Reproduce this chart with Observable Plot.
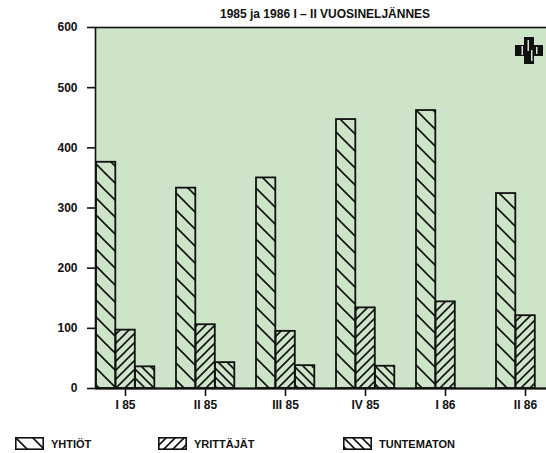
<!DOCTYPE html>
<html>
<head>
<meta charset="utf-8">
<script src="https://cdn.jsdelivr.net/npm/d3@7"></script>
<script src="https://cdn.jsdelivr.net/npm/@observablehq/plot@0.6"></script>
<style>
  html, body { margin: 0; padding: 0; background: #fff; width: 546px; height: 453px; overflow: hidden; }
  body { font-family: "Liberation Sans", Arial, sans-serif; position: relative; }
  #title { position: absolute; top: 4px; left: 220px; line-height: 20px; font-weight: bold; font-size: 12px; color: #111; white-space: nowrap; }
  #legend { position: relative; height: 29px; }
  .leg { position: absolute; top: 13px; display: flex; align-items: center; font-weight: bold; font-size: 11px; color: #111; }
  .leg svg { margin-right: 7px; overflow: visible; }
</style>
</head>
<body>
<div id="chart"></div>
<div id="title">1985 ja 1986 I – II VUOSINELJÄNNES</div>
<div id="legend"></div>
<script>
const quarters = ["I 85", "II 85", "III 85", "IV 85", "I 86", "II 86"];
const yhtiot = [376, 333, 350, 447, 462, 324];
const yrittajat = [97, 106, 95, 134, 144, 121];
const tuntematon = [36, 43, 38, 37, null, null];
const seriesNames = ["YHTIÖT", "YRITTÄJÄT", "TUNTEMATON"];
const yTicks = [0, 100, 200, 300, 400, 500, 600];

const green = "#cde4c9";
const patterns = ["p-yhtiot", "p-yrittajat", "p-tuntematon"];
const seriesValues = [yhtiot, yrittajat, tuntematon];
const insets = [[11, 49.7], [30.5, 30.2], [50, 10.7]];

const marks = [
  Plot.frame({fill: green, stroke: "#111", strokeWidth: 1.6}),
  Plot.axisY({ticks: yTicks, tickSize: 8, tickPadding: 10, fontSize: 12, fontWeight: "bold", stroke: "#111", strokeWidth: 1.6}),
  Plot.axisX({tickSize: 8, tickPadding: 4, fontSize: 12, fontWeight: "bold", stroke: "#111", strokeWidth: 1.6})
];
seriesValues.forEach((vals, i) => {
  const data = quarters.map((q, j) => ({quarter: q, value: vals[j]})).filter(d => d.value != null);
  marks.push(Plot.barY(data, {
    x: "quarter", y: "value",
    fill: `url(#${patterns[i]})`, stroke: "#111", strokeWidth: 1.8,
    insetLeft: insets[i][0], insetRight: insets[i][1]
  }));
});
marks.push(Plot.ruleY([0], {stroke: "#111", strokeWidth: 1.8}));

const chart = Plot.plot({
  width: 546, height: 424,
  marginLeft: 95, marginRight: -3, marginTop: 27, marginBottom: 36,
  style: {fontFamily: "Liberation Sans, Arial, sans-serif", color: "#111", background: "transparent"},
  x: {domain: quarters, range: [84, 565.2], padding: 0, label: null},
  y: {domain: [0, 600], label: null},
  marks
});
document.getElementById("chart").appendChild(chart);

// pattern definitions
const svg = d3.select(chart);
const defs = svg.insert("defs", ":first-child");
function hatch(id, size, dir) {
  const p = defs.append("pattern").attr("id", id).attr("patternUnits", "userSpaceOnUse")
    .attr("width", size).attr("height", size);
  const s = size;
  const d = dir === "back"
    ? `M-2,-2 L${s + 2},${s + 2} M${s - 2},-2 L${s + 2},2 M-2,${s - 2} L2,${s + 2}`
    : `M-2,${s + 2} L${s + 2},-2 M-2,2 L2,-2 M${s - 2},${s + 2} L${s + 2},${s - 2}`;
  p.append("path").attr("d", d).attr("stroke", "#111").attr("stroke-width", 1.6).attr("fill", "none");
}
hatch("p-yhtiot", 17, "back");
hatch("p-yrittajat", 9, "fwd");
hatch("p-tuntematon", 9, "back");

// emblem in the top right corner
const g = svg.append("g").attr("transform", "translate(515,37)");
g.append("path").attr("fill", "#111")
  .attr("d", "M9,0 H19 V8 H28 V19 H19 V27 H9 V19 H0 V8 H9 Z");
[[6.5, 9, 1.5, 9], [12.5, 3, 1.5, 11], [16, 13, 1.5, 11], [21, 10, 1.5, 7]].forEach(b =>
  g.append("rect").attr("x", b[0]).attr("y", b[1]).attr("width", b[2]).attr("height", b[3]).attr("fill", green));

// legend
const legend = document.getElementById("legend");
const legX = [15, 158, 343];
seriesNames.forEach((name, i) => {
  const div = document.createElement("div");
  div.className = "leg";
  div.style.left = legX[i] + "px";
  div.innerHTML = `<svg width="29" height="13"><rect x="0.8" y="0.8" width="27.4" height="11.4" fill="url(#${patterns[i]})" stroke="#111" stroke-width="1.6"/></svg><span>${name}</span>`;
  legend.appendChild(div);
});
</script>
</body>
</html>
